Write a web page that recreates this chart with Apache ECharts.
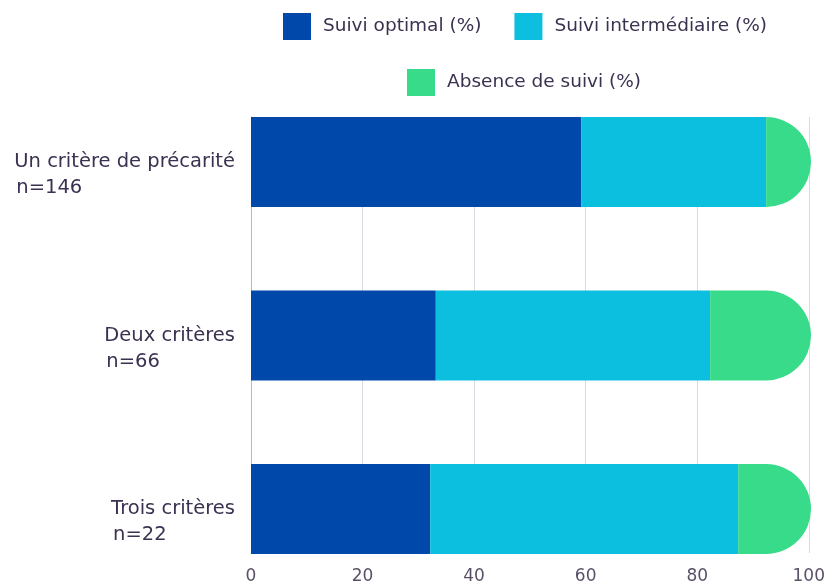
<!DOCTYPE html>
<html>
<head>
<meta charset="utf-8">
<script src="https://cdn.jsdelivr.net/npm/echarts@6/dist/echarts.min.js"></script>
<style>html,body{margin:0;padding:0;background:#fff}#c{width:828px;height:588px}</style>
</head>
<body>
<div id="c"></div>
<script>
const categories = ['Un critère de précarité', 'Deux critères', 'Trois critères'];
const counts = ['n=146', 'n=66', 'n=22'];
const seriesNames = ['Suivi optimal (%)', 'Suivi intermédiaire (%)', 'Absence de suivi (%)'];
const optimal = [59, 33, 32];
const intermediaire = [33, 49, 55];
const absence = [8, 18, 13];
const xTicks = [0, 20, 40, 60, 80, 100];

const FONT = 'DejaVu Sans';
const TXT = '#3b3150';
const colors = ['#0048A9', '#0CBFDE', '#38DB8A'];

const chart = echarts.init(document.getElementById('c'), null, {renderer: 'canvas'});
const legendCommon = {
  icon: 'rect', itemWidth: 28, itemHeight: 27, itemGap: 33, padding: 0,
  textStyle: {fontFamily: FONT, fontSize: 18.5, color: TXT, padding: [2, 0, 0, 7]},
  selectedMode: false
};
chart.setOption({
  animation: false,
  color: colors,
  legend: [
    Object.assign({data: [seriesNames[0], seriesNames[1]], left: 283, top: 13}, legendCommon),
    Object.assign({data: [seriesNames[2]], left: 407, top: 69}, legendCommon)
  ],
  grid: [
    {left: 251, right: 17, top: 117, height: 436},
    {left: 251, right: 17, top: 162, height: 347}
  ],
  xAxis: [
    {gridIndex: 0, type: 'value', min: xTicks[0], max: xTicks[xTicks.length - 1], interval: xTicks[1] - xTicks[0],
     axisLine: {show: false}, axisTick: {show: false},
     splitLine: {show: true, lineStyle: {color: '#d9d9e1', width: 1}},
     axisLabel: {fontFamily: FONT, fontSize: 17, color: '#5a5168', margin: 15}},
    {gridIndex: 1, type: 'value', min: xTicks[0], max: xTicks[xTicks.length - 1], show: false}
  ],
  yAxis: [
    {gridIndex: 0, type: 'category', data: [''], axisLine: {show: true, lineStyle: {color: '#b9b9c2', width: 1}},
     axisTick: {show: false}, axisLabel: {show: false}, splitLine: {show: false}},
    {gridIndex: 1, type: 'category', data: categories, inverse: true, boundaryGap: false,
     axisLine: {show: false}, axisTick: {show: false}, splitLine: {show: false},
     axisLabel: {
       margin: 16,
       formatter: function (v, i) { return '{b| }\n{t|' + v + '}\n{n|' + counts[i] + '}'; },
       rich: {
         b: {fontFamily: FONT, fontSize: 19.5, lineHeight: 26, color: TXT},
         t: {fontFamily: FONT, fontSize: 19.5, lineHeight: 26, color: TXT},
         n: {fontFamily: FONT, fontSize: 19.5, lineHeight: 26, color: TXT, align: 'left', padding: [0, 0, 0, 2]}
       }
     }}
  ],
  series: [
    {name: seriesNames[0], type: 'bar', stack: 'tot', xAxisIndex: 1, yAxisIndex: 1, barWidth: 90, data: optimal},
    {name: seriesNames[1], type: 'bar', stack: 'tot', xAxisIndex: 1, yAxisIndex: 1, barWidth: 90, data: intermediaire},
    {name: seriesNames[2], type: 'bar', stack: 'tot', xAxisIndex: 1, yAxisIndex: 1, barWidth: 90, data: absence,
     itemStyle: {borderRadius: [0, 45, 45, 0]}}
  ]
});
</script>
</body>
</html>
